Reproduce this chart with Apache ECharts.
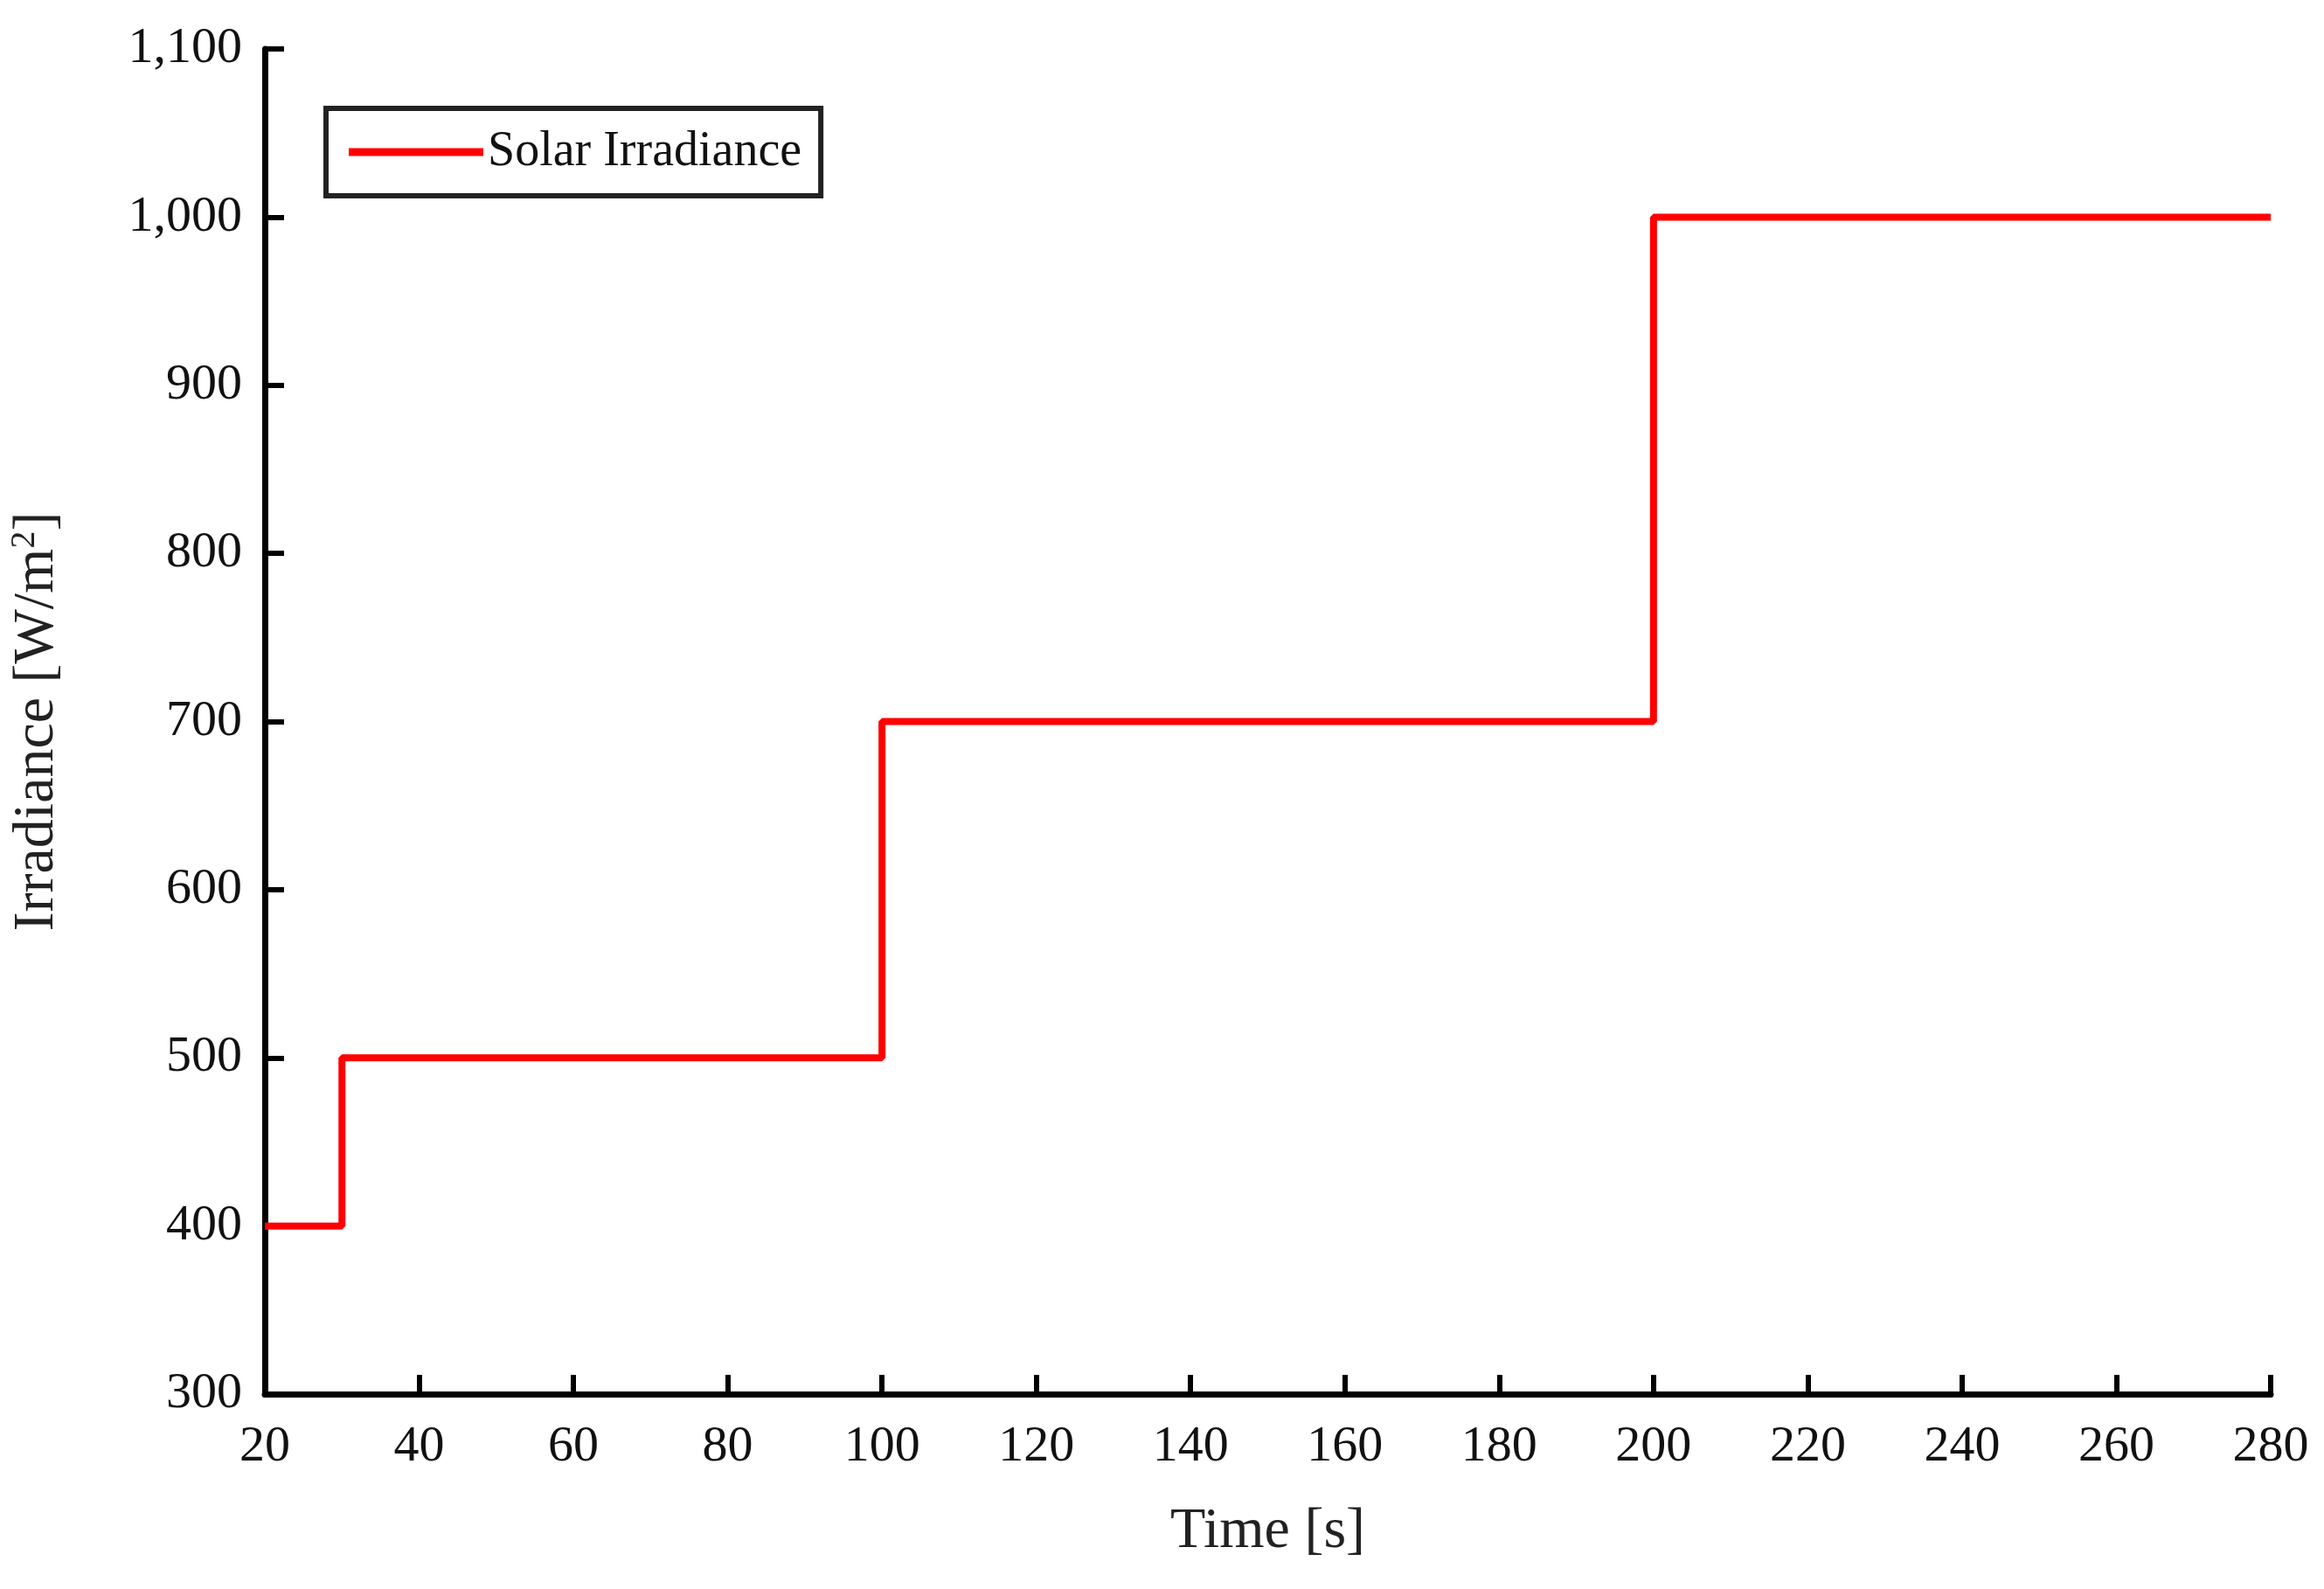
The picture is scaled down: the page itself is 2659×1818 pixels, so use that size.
<!DOCTYPE html>
<html>
<head>
<meta charset="utf-8">
<script src="https://cdn.jsdelivr.net/npm/echarts@6/dist/echarts.min.js"></script>
<style>html,body{margin:0;background:#fff}#main{width:2659px;height:1818px}</style>
</head>
<body>
<div id="main"></div>
<script>
// step profile of the irradiance
var times = [20, 30, 30, 100, 100, 200, 200, 280];
var irradiance = [400, 400, 500, 500, 700, 700, 1000, 1000];

var points = [];
for (var i = 0; i < times.length; i++) {
    points.push([times[i], irradiance[i]]);
}

var font = 'Liberation Serif';
var myChart = echarts.init(document.getElementById('main'));

var option = {
    backgroundColor: '#fff',
    animation: false,
    grid: { left: 302, right: 61, top: 56, bottom: 223 },
    legend: {
        left: 373, top: 124,
        padding: [22, 22, 22, 26],
        borderColor: '#222', borderWidth: 6,
        itemWidth: 154, itemHeight: 9, itemGap: 10,
        icon: 'rect',
        textStyle: { fontFamily: font, fontSize: 56, color: '#111' },
        data: ['Solar Irradiance']
    },
    xAxis: {
        type: 'value', min: 20, max: 280, interval: 20,
        name: 'Time [s]', nameLocation: 'middle', nameGap: 125,
        nameTextStyle: { fontFamily: font, fontSize: 66, color: '#222' },
        axisLine: { lineStyle: { color: '#000', width: 7 } },
        axisTick: { inside: true, length: 22, lineStyle: { color: '#000', width: 6 } },
        axisLabel: { fontFamily: font, fontSize: 58, color: '#111', margin: 32 },
        splitLine: { show: false }
    },
    yAxis: {
        type: 'value', min: 300, max: 1100, interval: 100,
        name: 'Irradiance [W/m{sup|2}]', nameLocation: 'middle', nameGap: 225,
        nameTextStyle: {
            fontFamily: font, fontSize: 66, color: '#222',
            rich: { sup: { fontFamily: font, fontSize: 40, color: '#222', verticalAlign: 'top', padding: [0, 0, 30, 0] } }
        },
        axisLine: { show: true, lineStyle: { color: '#000', width: 7 } },
        axisTick: { show: true, inside: true, length: 22, lineStyle: { color: '#000', width: 6 } },
        axisLabel: { fontFamily: font, fontSize: 58, color: '#111', margin: 26 },
        splitLine: { show: false }
    },
    series: [{
        name: 'Solar Irradiance',
        type: 'line',
        data: points,
        showSymbol: false,
        itemStyle: { color: '#ff0000' },
        lineStyle: { color: '#ff0000', width: 8 }
    }]
};

myChart.setOption(option);
</script>
</body>
</html>
